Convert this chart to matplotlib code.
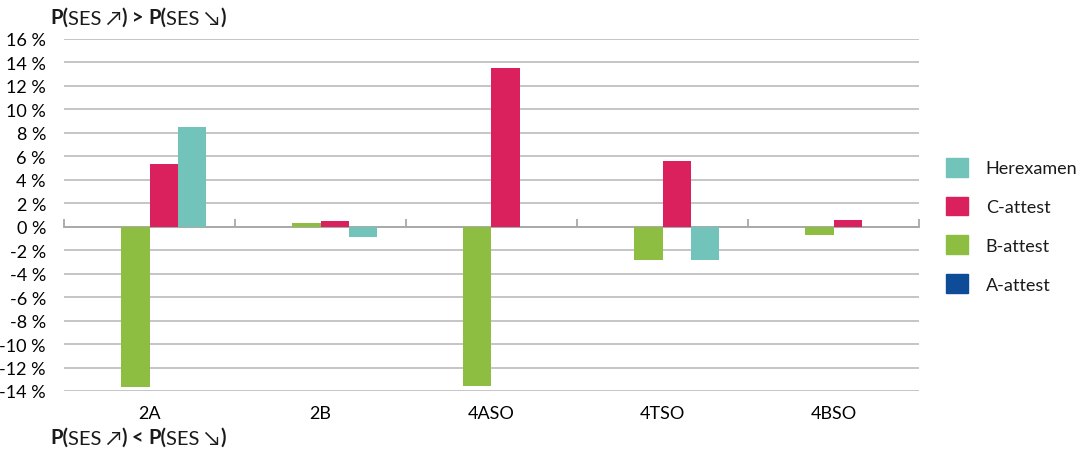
import numpy as np
import matplotlib.pyplot as plt
import matplotlib.patches as mpatches

plt.rcParams['font.family'] = ['Lato', 'DejaVu Sans']
plt.rcParams['font.size'] = 13
plt.rcParams['text.color'] = '#1a1a1a'

# Data (percentage points)
categories = ['2A', '2B', '4ASO', '4TSO', '4BSO']
series_names = ['A-attest', 'B-attest', 'C-attest', 'Herexamen']
a_attest = [-0.05, -0.05, -0.05, -0.05, -0.05]
b_attest = [-13.7, 0.3, -13.55, -2.8, -0.7]
c_attest = [5.35, 0.5, 13.55, 5.6, 0.55]
herexamen = [8.5, -0.85, -0.05, -2.8, -0.05]
colors = ['#0f4c97', '#8dbe41', '#da215d', '#72c3ba']
y_ticks = list(range(-14, 17, 2))

fig = plt.figure(figsize=(10.82, 4.52), dpi=100)
ax = fig.add_axes([64 / 1082, 1 - 392 / 452, (919 - 64) / 1082, 352 / 452])

x = np.arange(len(categories))
bar_w = 0.164
values = [a_attest, b_attest, c_attest, herexamen]
for i, (name, vals, col) in enumerate(zip(series_names, values, colors)):
    ax.bar(x + (i - 1.5) * bar_w, vals, width=bar_w, color=col, label=name, zorder=3)

ax.set_xlim(-0.5, len(categories) - 0.5)
ax.set_ylim(-14, 16)

# horizontal grid
ax.set_yticks(y_ticks)
ax.set_yticklabels([f'{v} %' for v in y_ticks])
ax.yaxis.grid(True, color='#b5b5b5', linewidth=1.1, zorder=0)
ax.tick_params(axis='y', length=0, pad=13)
for s in ['left', 'right', 'top']:
    ax.spines[s].set_visible(False)

# zero axis with inward ticks between groups
ax.spines['bottom'].set_position(('data', 0))
ax.spines['bottom'].set_color('#a8a8a8')
ax.spines['bottom'].set_linewidth(1.3)
ax.spines['bottom'].set_zorder(2)
ax.set_xticks(np.arange(len(categories) + 1) - 0.5)
ax.set_xticklabels([])
ax.tick_params(axis='x', direction='in', length=6, width=1.3, color='#a8a8a8')

# category labels at the bottom
sec = ax.secondary_xaxis('bottom')
sec.set_xticks(x)
sec.set_xticklabels(categories)
sec.tick_params(length=0, pad=10)
sec.spines['bottom'].set_visible(False)

# legend, top entry first
handles = [mpatches.Patch(color=c, label=n) for n, c in zip(series_names, colors)][::-1]
fig.legend(handles=handles, loc='upper left', bbox_to_anchor=(946 / 1082, 1 - 159 / 452),
           frameon=False, borderpad=0, borderaxespad=0, handlelength=1.2, handleheight=1.2,
           handletextpad=1.0, labelspacing=1.12)


def mixed_label(y, sign):
    # bold "P(" and ")" around regular "SES" + arrow
    pieces = [('P(', 'bold'), ('SES ↗', 'normal'), (')', 'bold'), (f' {sign} ', 'bold'),
              ('P(', 'bold'), ('SES ↘', 'normal'), (')', 'bold')]
    prev = fig.text(50 / 1082, 1 - y / 452, pieces[0][0], fontweight=pieces[0][1],
                    fontsize=14.5, ha='left', va='center')
    for txt, w in pieces[1:]:
        prev = ax.annotate(txt, xy=(1, 0), xycoords=prev, ha='left', va='bottom',
                           fontweight=w, fontsize=14.5, annotation_clip=False)


mixed_label(18, '>')
mixed_label(438, '<')

fig.savefig('out.png', dpi=100)
